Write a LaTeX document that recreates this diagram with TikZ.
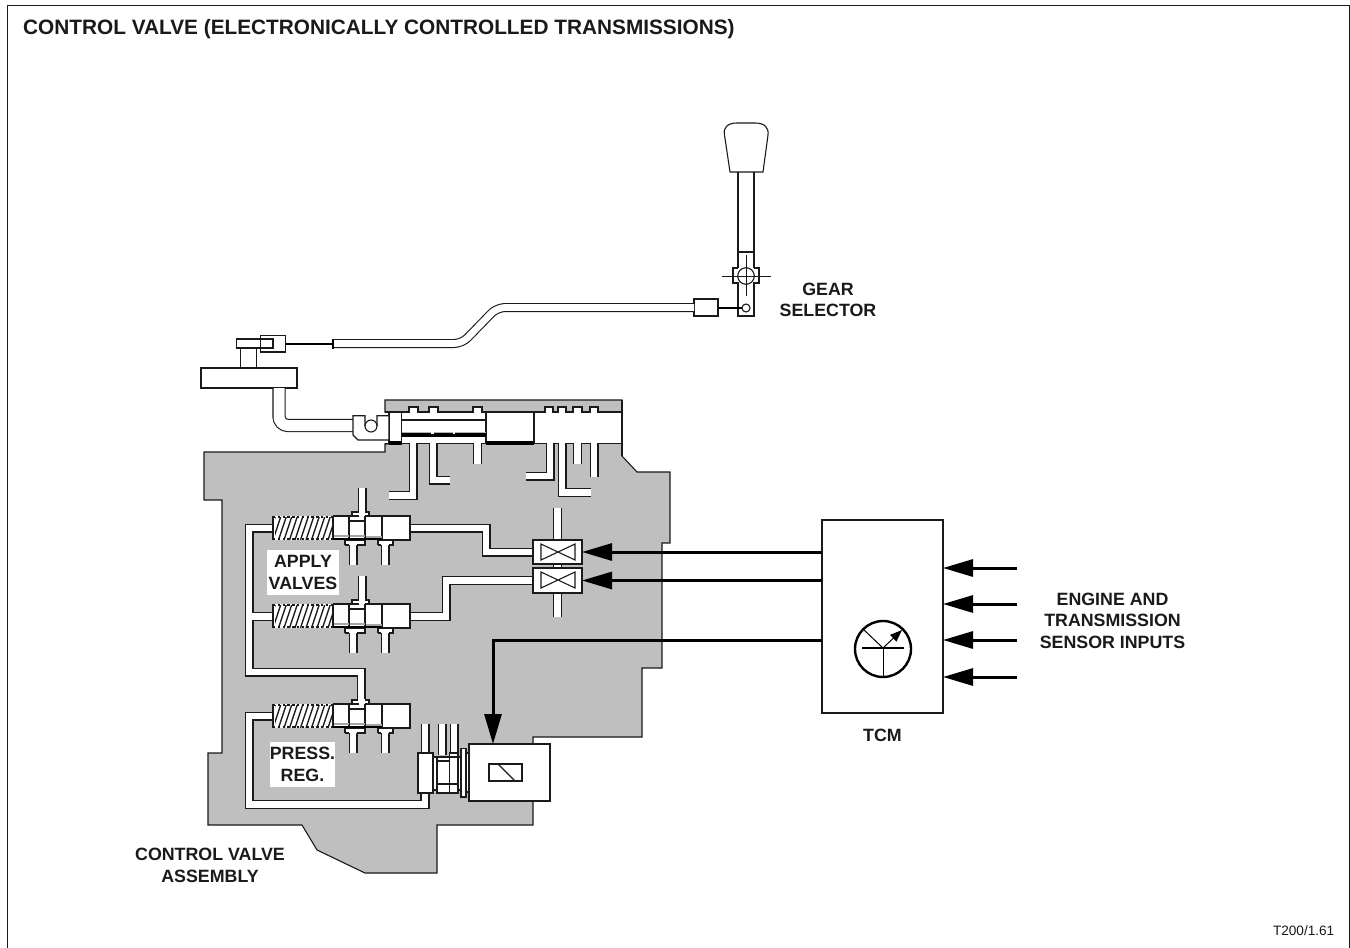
\documentclass[tikz,border=0pt]{standalone}
\usepackage{fontspec}
\setmainfont{Liberation Sans}
\usetikzlibrary{arrows.meta}
\definecolor{bodygray}{HTML}{BFBFBF}
\definecolor{ink}{HTML}{1A1A1A}
\tikzset{
  ln/.style={draw=ink,line width=1.1pt},
  box/.style={draw=ink,line width=1.1pt,fill=white},
  chan/.style={draw=ink,line width=1.1pt,double=white,double distance=6.8pt},
  bar/.style={fill=black},
  sig/.style={draw=black,line width=3pt,-{Triangle[length=30pt,width=17pt]}},
  lbl/.style={font=\bfseries\fontsize{17.8}{21.5}\selectfont,align=center,inner sep=0pt,text=ink},
  titlelbl/.style={font=\bfseries\fontsize{20.8}{24}\selectfont,inner sep=0pt,text=ink},
  blockn/.style={draw=ink,line width=1.1pt,fill=white,inner sep=0pt,outer sep=0pt},
}
\newcommand{\hatchspring}{%
  \fill[white] (273,516) rectangle (333,540);
  \begin{scope}
    \clip (275,517) rectangle (332,539);
    \foreach \xx in {262,267.5,...,335} {\draw[draw=ink,line width=1.3pt] (\xx,540) -- (\xx+8,516);}
  \end{scope}
  \draw[draw=ink,line width=1.6pt,dash pattern=on 2.4pt off 2.4pt] (273,517) -- (333,517);
  \draw[draw=ink,line width=1.6pt,dash pattern=on 2.4pt off 2.4pt] (273,539) -- (333,539);
  \draw[ln] (273,516) -- (273,540);
}
\newcommand{\valveunit}[1]{%
  \begin{scope}[shift={(0,#1)}]
    \draw[chan] (353,543) -- (353,565);
    \draw[chan] (385,543) -- (385,565);
    \draw[box] (345,545) -- (345,540.5) -- (365,540.5) -- (365,545) -- (357,545) (349,545) -- (345,545);
    \draw[box] (378,545) -- (378,540.5) -- (393,540.5) -- (393,545) -- (389,545) (381,545) -- (378,545);
    \fill[white] (349.6,543) rectangle (356.4,546.5);
    \fill[white] (381.6,543) rectangle (388.4,546.5);
    \draw[box] (352,518) -- (352,512) -- (358,512) (366,512) -- (369,512) -- (369,518);
    \fill[white] (352.6,512.6) rectangle (368.4,518);
    \hatchspring
    \fill[white] (333,516) rectangle (410,540);
    \draw[ln] (333,516) -- (410,516) -- (410,540) -- (382,540);
    \fill[white] (358.6,511) rectangle (365.4,517);
    \draw[ln] (333,516) -- (333,540);
    \draw[ln] (349,516) -- (349,540) (365,516) -- (365,540) (382,516) -- (382,540);
    \draw[ln] (349,521) -- (365,521);
    \fill[gray!70] (334,535) rectangle (349,537);
    \fill[gray!70] (349.5,534.5) rectangle (364.5,536.5);
    \fill[gray!70] (365.5,536) rectangle (381.5,537.5);
    \fill[bar] (333,537.8) rectangle (382,540.4);
  \end{scope}
}
\begin{document}
\begin{tikzpicture}[x=1pt,y=-1pt]
\useasboundingbox (0,0) rectangle (1350,948);
\fill[white] (0,0) rectangle (1350,948);
% frame
\draw[draw=ink,line width=1pt] (7.5,948) -- (7.5,5) -- (1349,5) -- (1349,948);
\node[titlelbl,anchor=west] (title) at (23,29.5) {CONTROL VALVE (ELECTRONICALLY CONTROLLED TRANSMISSIONS)};
\node[anchor=east,inner sep=0pt,text=ink,font=\fontsize{13.6}{15}\selectfont] (ref) at (1334.5,930.5) {T200/1.61};

% gray body
\draw[ln,fill=bodygray] (204,452) -- (385,452) -- (385,444) -- (389,444) -- (389,412) -- (385,412) -- (385,400) -- (622,400) -- (622,456) -- (637,472) -- (670,472) -- (670,543) -- (662,543) -- (662,668) -- (642,668) -- (642,737) -- (533,737) -- (533,825) -- (437,825) -- (437,873) -- (365,873) -- (317,850) -- (302,825) -- (208,825) -- (208,753) -- (222,753) -- (222,500) -- (204,500) -- cycle;

% manual valve bore
\fill[white] (389,412) rectangle (622,443.5);
\draw[ln] (385,412) -- (622,412);
\draw[ln] (385,443.5) -- (622,443.5);
\draw[ln] (622,400) -- (622,456);
\draw[ln] (401.5,412) -- (401.5,443.5);
\draw[ln] (486,412) -- (486,443.5);
\draw[ln] (534,412) -- (534,443.5);
\draw[ln] (389,412) -- (389,443.5);
\draw[ln] (401.5,420) -- (486,420);
\fill[bar] (401.5,433) rectangle (486,437);
\fill[gray!60] (401.5,431.5) rectangle (486,433);
\fill[white] (431,431.5) rectangle (434,433.5);
\fill[white] (453,432) rectangle (455,433.5);
\fill[bar] (486,441) rectangle (534,444.5);
\fill[bar] (389,441) rectangle (401.5,444.5);
% top ports
\foreach \pa/\pb in {409/418,429/438,473/482,545/553,558/566,573/582,590/598}{
  \fill[white] (\pa,407) rectangle (\pb,413);
  \draw[ln] (\pa-2.5,412) -- (\pa,412) -- (\pa,407) -- (\pb,407) -- (\pb,412) -- (\pb+2.5,412);
}
% lower ports of the manual valve
\draw[chan] (413,443) -- (413,495.5) -- (389,495.5);
\draw[chan] (433,443) -- (433,480) -- (450,480);
\draw[chan] (477.5,443) -- (477.5,464);
\draw[chan] (550,443) -- (550,476) -- (526,476);
\draw[chan] (562,443) -- (562,492.5) -- (591,492.5);
\draw[chan] (577.5,443) -- (577.5,464);
\draw[chan] (594,443) -- (594,477);

% hydraulic channels
\draw[chan] (273,528) -- (249,528) -- (249,672) -- (361,672) -- (361,704) (249,616.5) -- (273,616.5);
\draw[chan] (273,716) -- (249,716) -- (249,804.5) -- (425,804.5) -- (425,793);
\draw[chan] (362,488) -- (362,518);
\draw[chan] (362,576) -- (362,606);
\draw[chan] (409,528) -- (486,528) -- (486,552) -- (534,552);
\draw[chan] (409,616.5) -- (446,616.5) -- (446,580.5) -- (534,580.5);
\draw[chan] (557.5,508) -- (557.5,617);
\foreach \xc in {425,442,454}{\draw[chan] (\xc,724) -- (\xc,755);}

\valveunit{0}
\valveunit{88}
\valveunit{188}

% solenoid valves
\node[blockn,minimum width=49pt,minimum height=24pt] (sv1) at (557.5,552) {};
\node[blockn,minimum width=49pt,minimum height=25pt] (sv2) at (557.5,580.5) {};
\draw[ln] (541,544) -- (541,560) -- (575,544) -- (575,560) -- cycle;
\draw[ln] (541,572) -- (541,588) -- (575,572) -- (575,588) -- cycle;

% pressure regulator spool and solenoid
\draw[box] (433,757) rectangle (437,790);
\draw[box] (437,757) rectangle (449.5,793);
\draw[ln] (437,761) -- (449.5,761) (437,784) -- (449.5,784);
\draw[box] (449.5,753) rectangle (458,793);
\draw[box] (458,757) rectangle (461,790);
\draw[ln] (449.5,757) -- (458,757) (449.5,784) -- (458,784);
\draw[box] (461,748.5) rectangle (466,797);
\draw[box] (466,753) rectangle (469,792);
\draw[box] (418,753) rectangle (433,793);
\fill[white] (421.6,793.8) rectangle (428.4,801.5);
\draw[ln] (420.6,793) -- (420.6,801) (429.4,793) -- (429.4,801);
\node[blockn,minimum width=81pt,minimum height=57pt] (sol) at (509.5,772.5) {};
\draw[ln] (489,764) rectangle (522,781);
\draw[ln] (498,764) -- (515,781);

% TCM
\node[blockn,minimum width=121pt,minimum height=193pt] (tcm) at (882.5,616.5) {};
\draw[draw=black,line width=2.4pt] (883,649) circle (28pt);
\draw[draw=black,line width=2.4pt] (862,648) -- (904,648);
\draw[draw=black,line width=1pt] (883,648) -- (883,677);
\draw[draw=black,line width=1pt] (883,648) -- (863,629);
\draw[draw=black,line width=1pt,-{Triangle[length=12pt,width=9pt]}] (883,648) -- (902,630);

% signal arrows
\coordinate (solcorner) at (493,640);
\coordinate (solin) at (493,744);
\coordinate (tcmout) at (822,640);
\draw[sig] (tcm.west |- sv1.east) -- (sv1.east);
\draw[sig] (tcm.west |- sv2.east) -- (sv2.east);
\draw[sig] (tcmout) -- (solcorner) -- (solin);
\foreach \n/\yy in {a/568,b/604,c/640,d/677}{
  \coordinate (in\n) at (1017,\yy);
  \draw[sig] (in\n) -- (tcm.east |- in\n);
}

% gear lever
\draw[ln] (730,172) -- (724.5,135) .. controls (723,127) and (728,123) .. (737,123) -- (755,123) .. controls (764,123) and (769,127) .. (768,135) -- (763,172) -- cycle;
\draw[ln] (738,172) -- (738,268) (754,172) -- (754,268) (738,252) -- (754,252);
\draw[ln] (738,268) -- (733,268) -- (733,283) -- (738,283) -- (738,316) -- (754,316) -- (754,283) -- (759,283) -- (759,268) -- (754,268);
\draw[ln] (746,276) circle (8.3pt);
\draw[draw=ink,line width=0.7pt] (722,276) -- (771,276) (746,255) -- (746,296);
\draw[draw=black,line width=2pt] (718,308) -- (742,308);
\draw[ln] (746,308) circle (4pt);

% cable
\node[blockn,minimum width=24pt,minimum height=17pt] (cableend) at (706,307.5) {};
\draw[chan,rounded corners=8pt] (333,343.5) -- (462,343.5) -- (497,307.5) -- (cableend.west);
\draw[draw=black,line width=1.6pt] (333,338.5) -- (333,348.5);
\draw[draw=black,line width=2pt] (285,343.7) -- (333,343.7);

% linkage
\node[blockn,minimum width=96pt,minimum height=20pt] (lever) at (249,378) {};
\draw[ln] (240.7,348) -- (240.7,368) (256.7,348) -- (256.7,368);
\draw[ln] (260.7,335.7) rectangle (285.7,352);
\draw[box] (236.7,339) rectangle (273,348);
\draw[ln] (260.7,339) -- (260.7,348);
\coordinate (rodtop) at (279,388);
\coordinate (rodend) at (353,425.5);
\draw[draw=ink,line width=1.1pt,double=white,double distance=11pt,rounded corners=9pt] (rodtop) -- (279,425.5) -- (rodend);
% detent block
\fill[white] (353,415.7) rectangle (389,440);
\draw[ln] (353,435) -- (353,415.7) -- (365,415.7) -- (365,426) (377,426) -- (377,415.7) -- (389,415.7) -- (389,440) -- (358,440) -- (353,435);
\draw[ln] (371,426) circle (6pt);

% labels
\node[lbl] (gear) at (828,300) {GEAR\\SELECTOR};
\node[lbl] (sensors) at (1112.5,620.5) {ENGINE AND\\TRANSMISSION\\SENSOR INPUTS};
\node[lbl] (tcmlabel) at (882.5,735) {TCM};
\node[lbl] (cva) at (210,865.5) {CONTROL VALVE\\ASSEMBLY};
\node[lbl,fill=white,minimum width=72pt,minimum height=45pt] (apply) at (303,572.5) {APPLY\\VALVES};
\node[lbl,fill=white,minimum width=63pt,minimum height=45pt] (press) at (302.5,764.5) {PRESS.\\REG.};
\end{tikzpicture}
\end{document}
